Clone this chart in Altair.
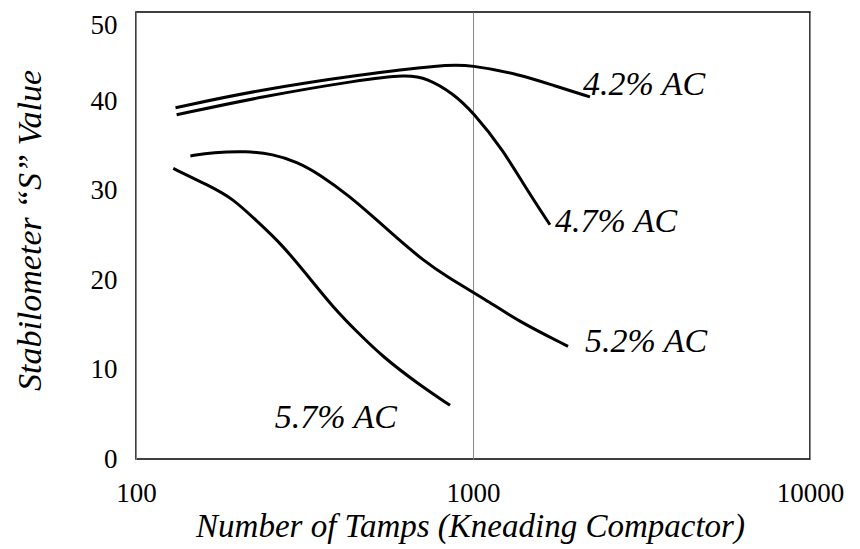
import altair as alt
import pandas as pd

# Series (x = number of tamps, y = stabilometer S value)
x_42 = [131, 233, 462, 815, 980, 1379, 1728, 2224]
y_42 = [39.3, 41.3, 43.0, 44.1, 44.1, 43.0, 41.8, 40.5]

x_47 = [132, 233, 462, 637, 730, 873, 1000, 1227, 1446, 1692]
y_47 = [38.5, 40.5, 42.4, 43.0, 42.6, 40.9, 38.8, 34.6, 30.1, 26.2]

x_52 = [145, 169, 213, 255, 300, 352, 432, 505, 595, 709, 835, 1095, 1351, 1914]
y_52 = [33.9, 34.3, 34.45, 34.1, 33.25, 31.8, 29.34, 27.1, 24.7, 22.26, 20.4, 17.8, 15.5, 12.6]

x_57 = [129, 164, 193, 230, 271, 328, 384, 453, 541, 682, 855]
y_57 = [32.5, 30.6, 29.2, 26.5, 24.0, 20.2, 17.0, 14.2, 11.4, 8.5, 6.0]

series_names = ["4.2% AC", "4.7% AC", "5.2% AC", "5.7% AC"]

# Curve labels (text, anchor in data units)
label_text = ["4.2% AC", "4.7% AC", "5.2% AC", "5.7% AC"]
label_x = [2121, 1751, 2149, 258]
label_y = [41.8, 26.5, 13.1, 4.6]

x_ticks = [100, 1000, 10000]
y_ticks = [0, 10, 20, 30, 40, 50]

rows = []
for name, xs, ys in zip(series_names, [x_42, x_47, x_52, x_57], [y_42, y_47, y_52, y_57]):
    for i, (a, b) in enumerate(zip(xs, ys)):
        rows.append({"series": name, "tamps": a, "s": b, "order": i})
df = pd.DataFrame(rows)
labels = pd.DataFrame({"text": label_text, "tamps": label_x, "s": label_y})

FONT = "Liberation Serif, Times New Roman, serif"

x_enc = alt.X(
    "tamps:Q",
    scale=alt.Scale(type="log", domain=[100, 10000], nice=False),
    axis=alt.Axis(
        values=x_ticks, format="d", title="Number of Tamps (Kneading Compactor)",
        grid=True, gridColor="#888888", gridWidth=1,
        ticks=False, domain=False, labelPadding=21,
        labelFont=FONT, labelFontSize=27, labelColor="black", labelFlush=False,
        titleFont=FONT, titleFontSize=33, titleFontStyle="italic", titleFontWeight="normal",
        titleColor="black", titleX=334, titleY=67, titleBaseline="middle", titleAlign="center",
    ),
)
y_enc = alt.Y(
    "s:Q",
    scale=alt.Scale(domain=[0, 50], nice=False),
    axis=alt.Axis(
        values=y_ticks, title="Stabilometer “S” Value",
        grid=False, ticks=False, domain=False, labelPadding=19,
        labelFont=FONT, labelFontSize=27, labelColor="black", labelFlush=False,
        labelBaseline=alt.expr("datum.value == 50 ? 'top' : 'middle'"),
        titleFont=FONT, titleFontSize=34, titleFontStyle="italic", titleFontWeight="normal",
        titleColor="black", titleAngle=-90, titleX=-106, titleY=218,
        titleBaseline="middle", titleAlign="center",
    ),
)

lines = alt.Chart(df).mark_line(
    interpolate="basis", color="black", strokeWidth=3
).encode(
    x=x_enc, y=y_enc, detail="series:N", order="order:Q"
)

texts = alt.Chart(labels).mark_text(
    align="left", baseline="middle", font=FONT, fontSize=34, fontStyle="italic", color="black"
).encode(
    x=alt.X("tamps:Q", scale=alt.Scale(type="log", domain=[100, 10000], nice=False)),
    y=alt.Y("s:Q", scale=alt.Scale(domain=[0, 50], nice=False)),
    text="text:N",
)

chart = alt.layer(lines, texts).properties(
    width=674, height=447,
    autosize=alt.AutoSizeParams(type="none"),
    padding={"left": 136, "top": 12, "right": 50, "bottom": 90},
    background="white",
).configure_view(stroke="black", strokeWidth=1.5)

chart.save("out.html", embed_options={"renderer": "svg", "actions": False})
